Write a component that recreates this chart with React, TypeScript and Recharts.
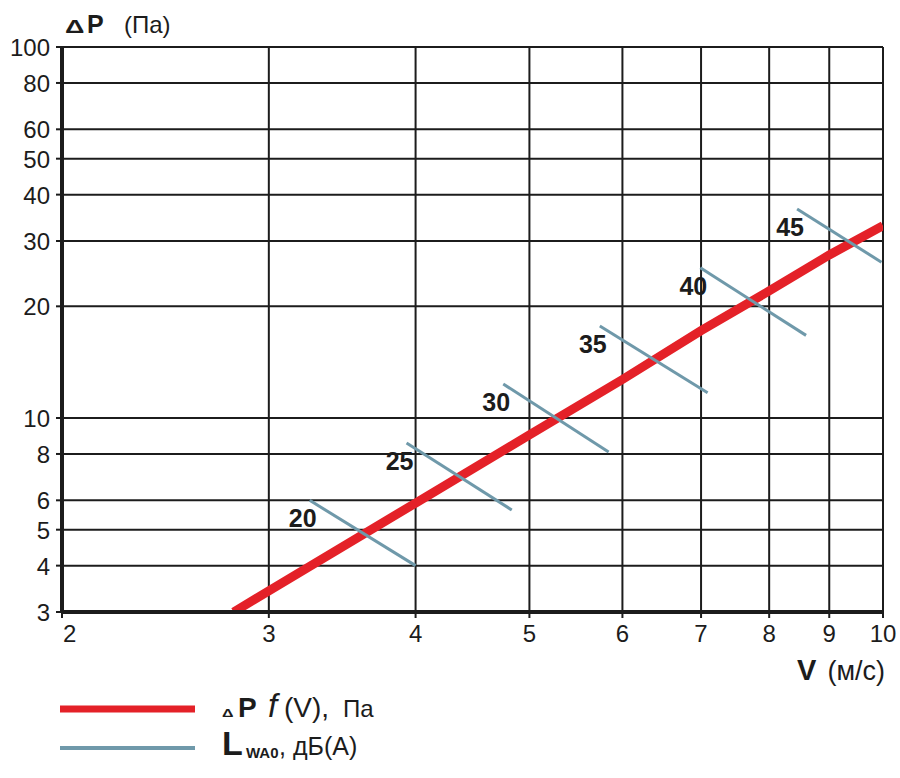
import { ComposedChart, Line, XAxis, YAxis, CartesianGrid, LabelList } from 'recharts';

// скорость V (м/с) и перепад давления ΔP (Па)
const speed = [2.8, 4, 5, 6, 7, 8, 9, 10];
const pressure = [3, 5.9, 9, 12.7, 17.2, 22, 27.5, 33];

// уровни шума LWA0, дБ(А) — короткие отрезки
const noiseLevels = [20, 25, 30, 35, 40, 45];
const noiseStartV = [3.25, 3.93, 4.75, 5.74, 6.99, 8.45];
const noiseStartP = [6.0, 8.56, 12.35, 17.7, 25.4, 36.6];
const noiseEndV = [4.0, 4.83, 5.84, 7.09, 8.6, 9.97];
const noiseEndP = [4.0, 5.65, 8.1, 11.7, 16.7, 26.3];

const xTicks = [2, 3, 4, 5, 6, 7, 8, 9, 10];
const yTicks = [3, 4, 5, 6, 8, 10, 20, 30, 40, 50, 60, 80, 100];

const RED = '#e42128';
const BLUE = '#6f99aa';
const INK = '#1c1c1c';
const FONT = '"Liberation Sans", Arial, Helvetica, sans-serif';

const redData = speed.map((v, i) => ({ v, p: pressure[i] }));
const noiseData = noiseLevels.map((lvl, i) => ({
  lvl,
  points: [
    { v: noiseStartV[i], p: noiseStartP[i] },
    { v: noiseEndV[i], p: noiseEndP[i] },
  ],
}));

const XTick = ({ x, y, payload }) => {
  const first = payload.value === 2;
  return (
    <text x={first ? x + 1 : x} y={y + 24} textAnchor={first ? 'start' : 'middle'}
      fontSize={24} fontFamily={FONT} fill={INK}>
      {payload.value}
    </text>
  );
};

const YTick = ({ x, y, payload }) => (
  <text x={x - 4} y={y + 9} textAnchor="end" fontSize={24} fontFamily={FONT} fill={INK}>
    {payload.value}
  </text>
);

const levelLabel = (lvl) => (props) => {
  if (props.index !== 0) return null;
  return (
    <text x={props.x - 7} y={props.y + 27} textAnchor="middle" fontSize={25}
      fontWeight="bold" fontFamily={FONT} fill={INK}>
      {lvl}
    </text>
  );
};

// плоский треугольник «Δ», как в оригинале
const Delta = ({ x, y, size, sx }) => (
  <text transform={`translate(${x},${y}) scale(${sx},1)`} fontSize={size} fontWeight="bold">Δ</text>
);

export default function App() {
  return (
    <div style={{ position: 'absolute', left: 0, top: 0, width: 900, height: 770, background: '#fff' }}>
      <ComposedChart width={900} height={700} margin={{ top: 47, right: 17, left: 0, bottom: 48 }}>
        <CartesianGrid stroke={INK} strokeWidth={2} />
        <XAxis dataKey="v" type="number" scale="log" domain={[2, 10]} ticks={xTicks} interval={0}
          allowDataOverflow height={40} tickSize={6} tickMargin={0}
          axisLine={{ stroke: INK, strokeWidth: 4 }} tickLine={{ stroke: INK, strokeWidth: 2 }}
          tick={<XTick />} />
        <YAxis dataKey="p" type="number" scale="log" domain={[3, 100]} ticks={yTicks} interval={0}
          allowDataOverflow width={62} tickSize={6} tickMargin={2}
          axisLine={{ stroke: INK, strokeWidth: 4 }} tickLine={{ stroke: INK, strokeWidth: 2 }}
          tick={<YTick />} />
        <Line data={redData} dataKey="p" stroke={RED} strokeWidth={9} dot={false}
          strokeLinecap="butt" isAnimationActive={false} />
        {noiseData.map((s) => (
          <Line key={s.lvl} data={s.points} dataKey="p" stroke={BLUE} strokeWidth={3}
            dot={false} isAnimationActive={false}>
            <LabelList dataKey="p" content={levelLabel(s.lvl)} />
          </Line>
        ))}
      </ComposedChart>

      <svg width={900} height={770} style={{ position: 'absolute', left: 0, top: 0, pointerEvents: 'none' }}
        fontFamily={FONT} fill={INK}>
        {/* подпись оси Y */}
        <Delta x={65} y={33} size={18} sx={1.5} />
        <text x={87} y={33} fontSize={25} fontWeight="bold">P</text>
        <text x={124} y={33} fontSize={24}>(Па)</text>
        {/* подпись оси X */}
        <text x={797} y={680} fontSize={29} fontWeight="bold">V</text>
        <text x={885} y={680} fontSize={27} textAnchor="end">(м/с)</text>
        {/* легенда */}
        <line x1={60} x2={195} y1={709} y2={709} stroke={RED} strokeWidth={7} />
        <line x1={60} x2={195} y1={748} y2={748} stroke={BLUE} strokeWidth={4} />
        <Delta x={222} y={717} size={10} sx={1.6} />
        <text x={238} y={717} fontSize={28} fontWeight="bold">P</text>
        <text x={268} y={717} fontSize={33} fontStyle="italic">f</text>
        <text x={284} y={717} fontSize={28}>(V),</text>
        <text x={343} y={717} fontSize={24}>Па</text>
        <text x={222} y={755} fontSize={34} fontWeight="bold">L</text>
        <text x={246} y={758} fontSize={15} fontWeight="bold">WA0</text>
        <text x={279} y={755} fontSize={25}>, дБ(А)</text>
      </svg>
    </div>
  );
}
